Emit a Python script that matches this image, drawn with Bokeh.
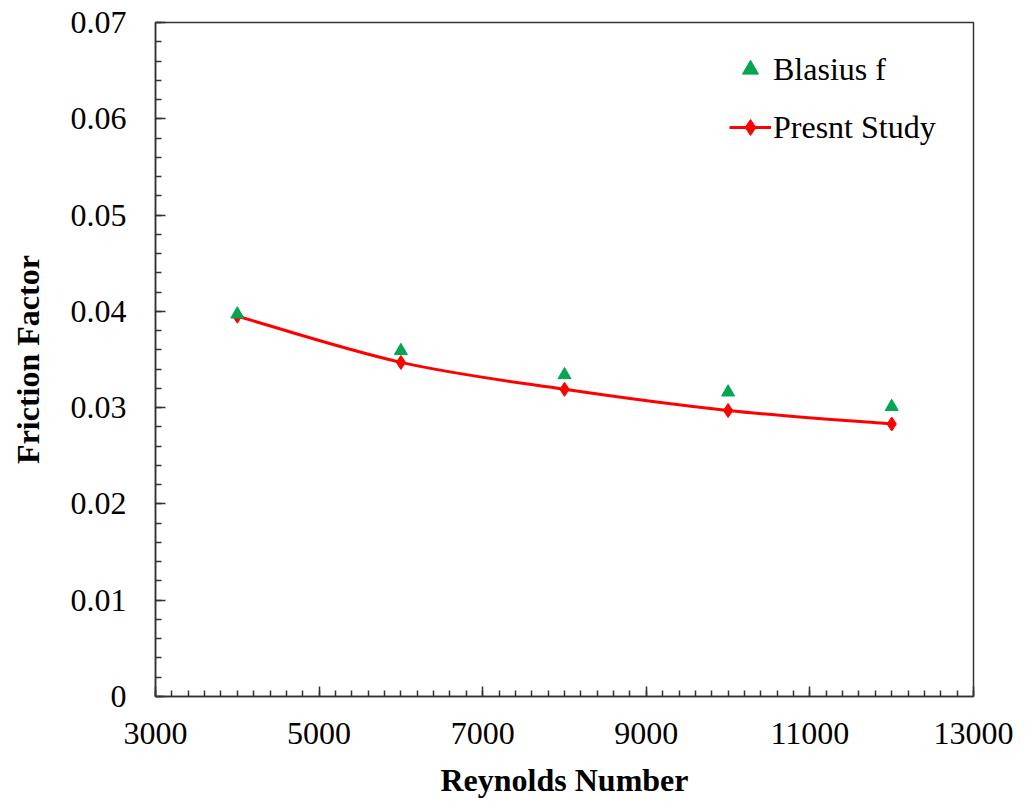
from bokeh.plotting import figure
from bokeh.models import Range1d, Legend, LegendItem, FixedTicker, CustomJSTickFormatter
from bokeh.embed import file_html
from bokeh.resources import INLINE

# Data
reynolds = [4000, 6000, 8000, 10000, 12000]
blasius_f = [0.0397, 0.0359, 0.0334, 0.0316, 0.0301]
present_study = [0.0395, 0.0347, 0.0319, 0.0297, 0.0283]

x_ticks = [3000, 5000, 7000, 9000, 11000, 13000]
y_ticks = [0, 0.01, 0.02, 0.03, 0.04, 0.05, 0.06, 0.07]

FONT = "Liberation Serif"

p = figure(width=1020, height=800, output_backend="svg", toolbar_location=None,
           x_range=Range1d(3000, 13000), y_range=Range1d(0, 0.07),
           min_border_left=155, min_border_right=47, min_border_top=22, min_border_bottom=103)
p.grid.visible = False
p.outline_line_color = "#333333"
p.outline_line_width = 1.5
p.background_fill_color = "white"
p.border_fill_color = "white"

# axes
xa = p.xaxis[0]
xa.ticker = FixedTicker(ticks=x_ticks, minor_ticks=list(range(3000, 13001, 200)))
xa.axis_label = "Reynolds Number"
ya = p.yaxis[0]
ya.ticker = FixedTicker(ticks=y_ticks, minor_ticks=[i * 0.002 for i in range(36)])
ya.axis_label = "Friction Factor"
ya.formatter = CustomJSTickFormatter(code="return tick == 0 ? '0' : tick.toFixed(2);")
for ax in (xa, ya):
    ax.axis_line_color = "#333333"
    ax.axis_line_width = 1.5
    ax.major_tick_line_color = "#333333"
    ax.minor_tick_line_color = "#333333"
    ax.major_tick_line_width = 1.5
    ax.minor_tick_line_width = 1.5
    ax.major_tick_in = 10
    ax.major_tick_out = 0
    ax.minor_tick_in = 6
    ax.minor_tick_out = 0
    ax.major_label_text_font = FONT
    ax.major_label_text_font_size = "32px"
    ax.major_label_text_color = "black"
    ax.axis_label_text_font = FONT
    ax.axis_label_text_font_size = "32px"
    ax.axis_label_text_font_style = "bold"
    ax.axis_label_text_color = "black"
xa.major_label_standoff = 26
xa.axis_label_standoff = 15
ya.major_label_standoff = 29
ya.axis_label_standoff = 22

# smooth curve for present study (Catmull-Rom style bezier through data points)
n = len(reynolds)
x0, y0, x1, y1, cx0, cy0, cx1, cy1 = [], [], [], [], [], [], [], []
for i in range(n - 1):
    im1 = max(i - 1, 0)
    ip2 = min(i + 2, n - 1)
    x0.append(reynolds[i]); y0.append(present_study[i])
    x1.append(reynolds[i + 1]); y1.append(present_study[i + 1])
    cx0.append(reynolds[i] + (reynolds[i + 1] - reynolds[im1]) / 6)
    cy0.append(present_study[i] + (present_study[i + 1] - present_study[im1]) / 6)
    cx1.append(reynolds[i + 1] - (reynolds[ip2] - reynolds[i]) / 6)
    cy1.append(present_study[i + 1] - (present_study[ip2] - present_study[i]) / 6)
p.bezier(x0=x0, y0=y0, x1=x1, y1=y1, cx0=cx0, cy0=cy0, cx1=cx1, cy1=cy1,
         line_color="#FF0000", line_width=3)

diam = p.scatter(reynolds, present_study, marker="diamond", size=14,
                 fill_color="#FF0000", line_color="#FF0000")
tri = p.scatter(reynolds, blasius_f, marker="triangle", size=13,
                fill_color="#00A651", line_color="#00A651")

# single-point line: draws nothing in the plot, only provides the legend line
leg_line = p.line(x=reynolds[:1], y=present_study[:1], line_color="#FF0000", line_width=3)

legend = Legend(items=[LegendItem(label="Blasius f", renderers=[tri]),
                       LegendItem(label="Presnt Study", renderers=[leg_line, diam])],
                location=(574, 549), padding=0, margin=0, spacing=18,
                glyph_width=42, glyph_height=40, label_height=40, label_standoff=2,
                border_line_color=None, background_fill_alpha=0,
                label_text_font=FONT, label_text_font_size="32px", label_text_color="black")
p.add_layout(legend, "center")

open("out.html", "w").write(file_html(p, INLINE))
